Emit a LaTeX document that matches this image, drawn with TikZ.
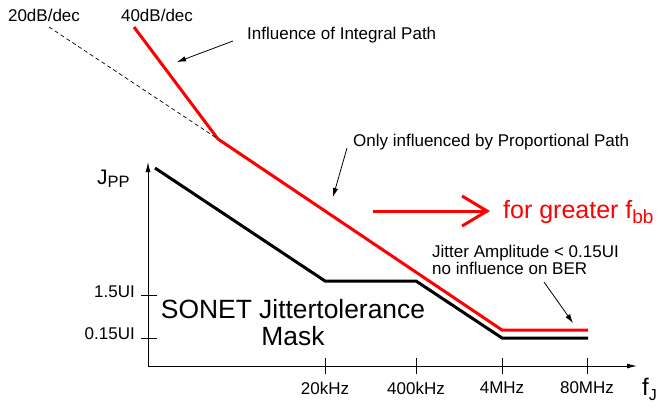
\documentclass[tikz,border=0pt]{standalone}
\usepackage{fontspec}
\setmainfont{Liberation Sans}
\usetikzlibrary{arrows.meta}
\newcommand\lowtxt[3]{\raisebox{-#1}{\fontsize{#2}{#2}\selectfont #3}}
\begin{document}
\begin{tikzpicture}[x=1pt,y=-1pt,
  lbl/.style={font=\fontsize{17}{20}\selectfont, inner sep=0pt},
  axisline/.style={line width=0.9pt},
  ticks/.style={line width=0.9pt},
  mask/.style={line width=3pt, line join=miter, line cap=butt},
  ann/.style={line width=0.8pt, -{Latex[length=9pt,width=5.5pt]}},
  axarrow/.style={-{Latex[length=10pt,width=5pt]}},
]
\useasboundingbox (0,0) rectangle (660,405);

% axes
\coordinate (O) at (148,366);
\coordinate (ytop) at (148,162);
\coordinate (xend) at (637,366);
\draw[axisline,axarrow] (O) -- (ytop);
\draw[axisline,axarrow] (O) -- (xend);

% y ticks
\coordinate (y15a) at (141,295); \coordinate (y15b) at (157,295);
\coordinate (y015a) at (141,338); \coordinate (y015b) at (157,338);
\draw[ticks] (y15a) -- (y15b);
\draw[ticks] (y015a) -- (y015b);
\node[lbl, anchor=east] (l15) at (135,292) {1.5UI};
\node[lbl, anchor=east] (l015) at (135,334) {0.15UI};

% x ticks
\foreach \xx/\nm/\tx in {325/t1/20kHz, 416/t2/400kHz, 502/t3/4MHz, 587/t4/80MHz}{
  \coordinate (\nm a) at (\xx,358);
  \coordinate (\nm b) at (\xx,374);
  \draw[ticks] (\nm a) -- (\nm b);
  \node[lbl] (\nm l) at (\xx,388) {\tx};
}

% axis labels
\node[inner sep=0pt, anchor=base west, font=\fontsize{21}{22}\selectfont] (jpp) at (97,184) {J\lowtxt{3.5pt}{16.5}{PP}};
\node[inner sep=0pt, anchor=base west, font=\fontsize{24}{24}\selectfont] (fj) at (642,395) {f\lowtxt{5pt}{16}{J}};

% mask (black)
\coordinate (m1) at (155,168);
\coordinate (m2) at (325,281);
\coordinate (m3) at (416,281);
\coordinate (m4) at (502,338);
\coordinate (m5) at (588,338);
\draw[mask, black] (m1) -- (m2) -- (m3) -- (m4) -- (m5);

% red curve
\coordinate (r0) at (134,27);
\coordinate (rk) at (218,139);
\coordinate (r2) at (502,330);
\coordinate (r3) at (588,330);
\draw[mask, red] (r0) -- (rk) -- (r2) -- (r3);

% dashed 20dB/dec
\coordinate (d0) at (49,27);
\draw[dashed, dash pattern=on 4pt off 3pt, line width=0.7pt] (d0) -- (rk);

\node[lbl] (db20) at (44,15) {20dB/dec};
\node[lbl] (db40) at (157,15) {40dB/dec};

% annotations
\node[lbl, anchor=west] (integ) at (247,35) {Influence of Integral Path};
\coordinate (ia) at (233,41);
\coordinate (ib) at (177,62);
\draw[ann] (ia) -- (ib);

\node[lbl, anchor=west] (prop) at (353,142) {Only influenced by Proportional Path};
\coordinate (pa) at (347,148);
\coordinate (pb) at (333,197);
\draw[ann] (pa) -- (pb);

\node[lbl, anchor=west, align=left, font=\fontsize{17}{16.5}\selectfont] (jit) at (432,260) {Jitter Amplitude < 0.15UI\\no influence on BER};
\coordinate (ja) at (544,282);
\coordinate (jb) at (573,323);
\draw[ann] (ja) -- (jb);

\node[inner sep=0pt, align=center, font=\fontsize{26.4}{27}\selectfont] (sonet) at (293,323) {SONET Jittertolerance\\Mask};

% red arrow and label
\node[inner sep=0pt, anchor=base west, text=red, font=\fontsize{25}{26}\selectfont] (fbb) at (503,218) {for greater f\lowtxt{5pt}{19}{bb}};
\coordinate (ra) at (373,211);
\coordinate (rb) at (490,211);
\draw[red, line width=3pt, -{Straight Barb[length=25pt,width=30pt]}] (ra) -- (rb);
\end{tikzpicture}
\end{document}
